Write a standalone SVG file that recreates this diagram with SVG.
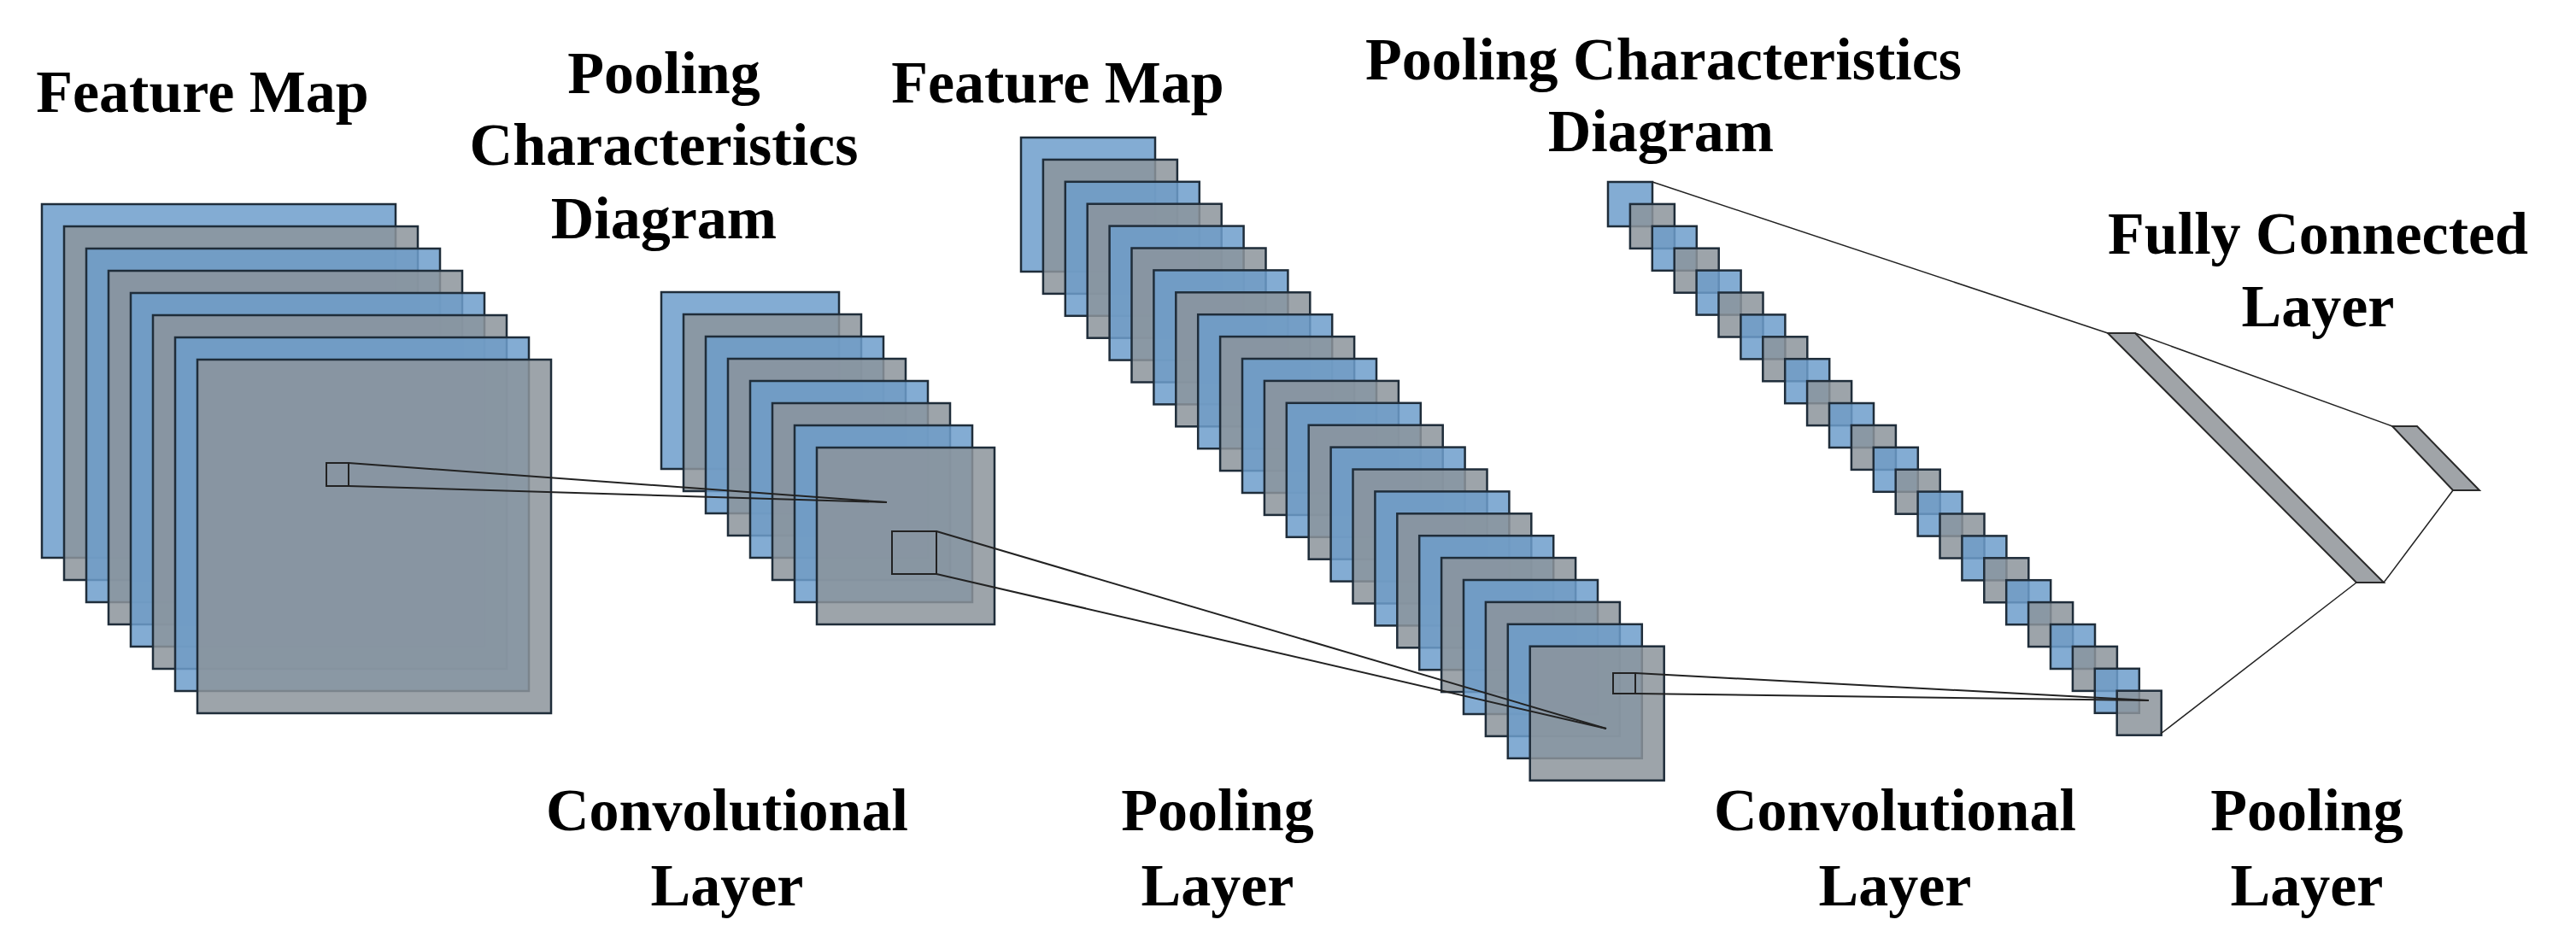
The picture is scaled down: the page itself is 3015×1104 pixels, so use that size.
<svg xmlns="http://www.w3.org/2000/svg" xmlns:xlink="http://www.w3.org/1999/xlink" width="3015" height="1104" viewBox="0 0 3015 1104">
<style>
.b{fill:#6d9ecb;fill-opacity:0.85;stroke:#1f2d3a;stroke-width:2.5}
.g{fill:#8c949b;fill-opacity:0.85;stroke:#1f2d3a;stroke-width:2.5}
.ln{fill:none;stroke:#222;stroke-width:2}
.fc{fill:#a0a4a8;stroke:#2a2a2a;stroke-width:2}
text{font-family:"Liberation Serif","Times New Roman",serif;font-weight:bold;font-size:70px;fill:#000;text-anchor:middle}
</style>
<defs>
<rect id="b1" class="b" width="414" height="414"/><rect id="g1" class="g" width="414" height="414"/>
<rect id="b2" class="b" width="208" height="207"/><rect id="g2" class="g" width="208" height="207"/>
<rect id="b3" class="b" width="157" height="157"/><rect id="g3" class="g" width="157" height="157"/>
<rect id="b4" class="b" width="52" height="52"/><rect id="g4" class="g" width="52" height="52"/>
</defs>
<rect width="3015" height="1104" fill="#fff"/>
<g id="labels">
<text x="237" y="131">Feature Map</text>
<text x="777" y="109">Pooling</text>
<text x="777" y="193">Characteristics</text>
<text x="777" y="279">Diagram</text>
<text x="1238" y="120">Feature Map</text>
<text x="1947" y="93">Pooling Characteristics</text>
<text x="1944" y="177">Diagram</text>
<text x="2713" y="297">Fully Connected</text>
<text x="2713" y="382">Layer</text>
<text x="851" y="972">Convolutional</text>
<text x="851" y="1060">Layer</text>
<text x="1425" y="972">Pooling</text>
<text x="1425" y="1060">Layer</text>
<text x="2218" y="972">Convolutional</text>
<text x="2218" y="1060">Layer</text>
<text x="2700" y="972">Pooling</text>
<text x="2700" y="1060">Layer</text>
</g>
<g id="stack1" transform="translate(49,239)">
<use href="#b1" x="0" y="0"/><use href="#g1" x="26" y="26"/><use href="#b1" x="52" y="52"/><use href="#g1" x="78" y="78"/>
<use href="#b1" x="104" y="104"/><use href="#g1" x="130" y="130"/><use href="#b1" x="156" y="156"/><use href="#g1" x="182" y="182"/>
</g>
<g id="stack2" transform="translate(774,342)">
<use href="#b2" x="0" y="0"/><use href="#g2" x="26" y="26"/><use href="#b2" x="52" y="52"/><use href="#g2" x="78" y="78"/>
<use href="#b2" x="104" y="104"/><use href="#g2" x="130" y="130"/><use href="#b2" x="156" y="156"/><use href="#g2" x="182" y="182"/>
</g>
<g id="stack3" transform="translate(1195,161)">
<use href="#b3" x="0" y="0"/><use href="#g3" x="25.9" y="25.9"/><use href="#b3" x="51.8" y="51.8"/><use href="#g3" x="77.7" y="77.7"/>
<use href="#b3" x="103.6" y="103.6"/><use href="#g3" x="129.5" y="129.5"/><use href="#b3" x="155.4" y="155.4"/><use href="#g3" x="181.3" y="181.3"/>
<use href="#b3" x="207.2" y="207.2"/><use href="#g3" x="233.1" y="233.1"/><use href="#b3" x="259" y="259"/><use href="#g3" x="284.9" y="284.9"/>
<use href="#b3" x="310.8" y="310.8"/><use href="#g3" x="336.7" y="336.7"/><use href="#b3" x="362.6" y="362.6"/><use href="#g3" x="388.5" y="388.5"/>
<use href="#b3" x="414.4" y="414.4"/><use href="#g3" x="440.3" y="440.3"/><use href="#b3" x="466.2" y="466.2"/><use href="#g3" x="492.1" y="492.1"/>
<use href="#b3" x="518" y="518"/><use href="#g3" x="543.9" y="543.9"/><use href="#b3" x="569.8" y="569.8"/><use href="#g3" x="595.7" y="595.7"/>
</g>
<g id="stack4" transform="translate(1882,213)">
<use href="#b4" x="0" y="0"/><use href="#g4" x="25.9" y="25.9"/><use href="#b4" x="51.8" y="51.8"/><use href="#g4" x="77.7" y="77.7"/>
<use href="#b4" x="103.6" y="103.6"/><use href="#g4" x="129.5" y="129.5"/><use href="#b4" x="155.4" y="155.4"/><use href="#g4" x="181.3" y="181.3"/>
<use href="#b4" x="207.2" y="207.2"/><use href="#g4" x="233.1" y="233.1"/><use href="#b4" x="259" y="259"/><use href="#g4" x="284.9" y="284.9"/>
<use href="#b4" x="310.8" y="310.8"/><use href="#g4" x="336.7" y="336.7"/><use href="#b4" x="362.6" y="362.6"/><use href="#g4" x="388.5" y="388.5"/>
<use href="#b4" x="414.4" y="414.4"/><use href="#g4" x="440.3" y="440.3"/><use href="#b4" x="466.2" y="466.2"/><use href="#g4" x="492.1" y="492.1"/>
<use href="#b4" x="518" y="518"/><use href="#g4" x="543.9" y="543.9"/><use href="#b4" x="569.8" y="569.8"/><use href="#g4" x="595.7" y="595.7"/>
</g>
<g id="fc1"><polygon class="fc" points="2467,390 2499,390 2790,682 2758,682"/></g>
<g id="fc2"><polygon class="fc" points="2800,499 2829,499 2902,574 2871,574"/></g>
<g id="connectors" class="ln">
<rect x="382" y="542" width="26" height="27"/>
<line x1="408" y1="542" x2="1038" y2="588"/>
<line x1="408" y1="569" x2="1038" y2="588"/>
<rect x="1044" y="622" width="52" height="50"/>
<line x1="1096" y1="622" x2="1880" y2="853"/>
<line x1="1096" y1="672" x2="1880" y2="853"/>
<rect x="1888" y="788" width="26" height="24"/>
<line x1="1914" y1="788" x2="2515" y2="820"/>
<line x1="1914" y1="812" x2="2515" y2="820"/>
<line x1="1934" y1="213" x2="2467" y2="390" stroke-width="1.5"/>
<line x1="2529" y1="859" x2="2758" y2="682" stroke-width="1.5"/>
<line x1="2499" y1="390" x2="2800" y2="499" stroke-width="1.5"/>
<line x1="2790" y1="682" x2="2871" y2="574" stroke-width="1.5"/>
</g>
</svg>
